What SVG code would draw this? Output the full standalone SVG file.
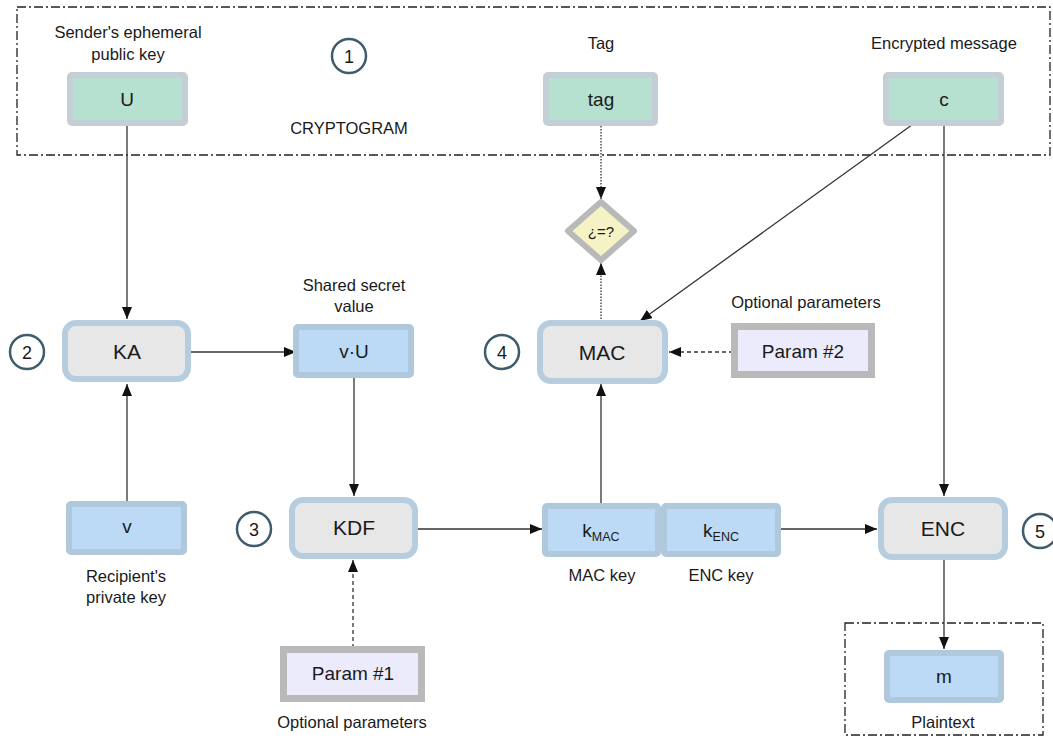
<svg xmlns="http://www.w3.org/2000/svg" width="1053" height="742" viewBox="0 0 1053 742">
<defs>
<style>
text{font-family:"Liberation Sans",Arial,sans-serif;fill:#1a1a1a;text-anchor:middle}
.lbl{font-size:16.5px}
.dt{font-size:19px}
.pt{font-size:21px}
.num{font-size:18px}
.green{fill:#b6e0cf;stroke:#c3ced6;stroke-width:6}
.blue{fill:#bcdaf6;stroke:#afc8dc;stroke-width:6}
.proc{fill:#e7e7e7;stroke:#b5cddf;stroke-width:6}
.param{fill:#ebebfb;stroke:#b9b9b9;stroke-width:7}
.circ{fill:#fff;stroke:#3e5c6c;stroke-width:2.5}
.frame{fill:none;stroke:#222;stroke-width:1.3;stroke-dasharray:9 3 2 3}
.con{fill:none;stroke:#333;stroke-width:1.3}
.dot{stroke-dasharray:1.5 1.5}
.dash{stroke-dasharray:4 3}
</style>
<marker id="ah" viewBox="0 0 12 10" refX="12" refY="5" markerWidth="12" markerHeight="10" markerUnits="userSpaceOnUse" orient="auto">
<path d="M0,0 L12,5 L0,10 z" fill="#111"/>
</marker>
</defs>
<rect width="1053" height="742" fill="#fff"/>

<g id="frames">
<rect class="frame" x="17" y="7" width="1033" height="148"/>
<rect class="frame" x="845" y="623" width="198" height="112"/>
</g>

<g id="connectors">
<line class="con" x1="127" y1="126" x2="127" y2="319" marker-end="url(#ah)"/>
<line class="con" x1="127" y1="502" x2="127" y2="384" marker-end="url(#ah)"/>
<line class="con" x1="191" y1="352" x2="296" y2="352" marker-end="url(#ah)"/>
<line class="con" x1="354" y1="378" x2="354" y2="496" marker-end="url(#ah)"/>
<line class="con dash" x1="353" y1="648" x2="353" y2="560" marker-end="url(#ah)"/>
<line class="con" x1="418" y1="529" x2="542" y2="529" marker-end="url(#ah)"/>
<line class="con" x1="601" y1="503" x2="601" y2="384" marker-end="url(#ah)"/>
<line class="con dot" x1="601" y1="319" x2="601" y2="263" marker-end="url(#ah)"/>
<line class="con dot" x1="601" y1="126" x2="601" y2="199" marker-end="url(#ah)"/>
<line class="con" x1="916" y1="122" x2="640" y2="321" marker-end="url(#ah)"/>
<line class="con dash" x1="733" y1="352" x2="669" y2="352" marker-end="url(#ah)"/>
<line class="con" x1="944" y1="126" x2="944" y2="496" marker-end="url(#ah)"/>
<line class="con" x1="781" y1="529" x2="877" y2="529" marker-end="url(#ah)"/>
<line class="con" x1="944" y1="560" x2="944" y2="649" marker-end="url(#ah)"/>
</g>

<g id="n1">
<circle class="circ" cx="349" cy="56" r="17"/>
<text class="num" x="349" y="62.5">1</text>
</g>
<text class="lbl" x="349" y="134">CRYPTOGRAM</text>

<g id="U">
<text class="lbl" x="128" y="38">Sender's ephemeral</text>
<text class="lbl" x="128" y="60">public key</text>
<rect class="green" x="70" y="75" width="115" height="48" rx="2"/>
<text class="dt" x="127" y="106">U</text>
</g>

<g id="tag">
<text class="lbl" x="601" y="49">Tag</text>
<rect class="green" x="546" y="75" width="109" height="48" rx="2"/>
<text class="dt" x="601" y="106">tag</text>
</g>

<g id="c">
<text class="lbl" x="944" y="49">Encrypted message</text>
<rect class="green" x="886" y="75" width="115" height="48" rx="2"/>
<text class="dt" x="944" y="106">c</text>
</g>

<g id="cmp">
<polygon points="601,202 634,231 601,260 568,231" fill="#f5f3c6" stroke="#b9b9b9" stroke-width="6" stroke-linejoin="round"/>
<text x="601" y="237" style="font-size:15px">¿=?</text>
</g>

<g id="n2">
<circle class="circ" cx="27" cy="352" r="17"/>
<text class="num" x="27" y="358.5">2</text>
</g>
<g id="KA">
<rect class="proc" x="65" y="323" width="123" height="56" rx="11"/>
<text class="pt" x="127" y="359">KA</text>
</g>

<g id="vU">
<text class="lbl" x="354" y="291">Shared secret</text>
<text class="lbl" x="354" y="312">value</text>
<rect class="blue" x="296" y="327" width="115" height="48" rx="2"/>
<text class="dt" x="354" y="358">v·U</text>
</g>

<g id="n4">
<circle class="circ" cx="502" cy="352" r="17"/>
<text class="num" x="502" y="358.5">4</text>
</g>
<g id="MAC">
<rect class="proc" x="540" y="323" width="125" height="58" rx="11"/>
<text class="pt" x="602" y="360">MAC</text>
</g>

<g id="param2">
<text class="lbl" x="806" y="308">Optional parameters</text>
<rect class="param" x="734.5" y="326.5" width="137" height="48"/>
<text class="dt" x="803" y="358">Param #2</text>
</g>

<g id="v">
<rect class="blue" x="69" y="504" width="115" height="48" rx="2"/>
<text class="dt" x="127" y="533">v</text>
<text class="lbl" x="126" y="582">Recipient's</text>
<text class="lbl" x="126" y="603">private key</text>
</g>

<g id="n3">
<circle class="circ" cx="254" cy="529" r="17"/>
<text class="num" x="254" y="535.5">3</text>
</g>
<g id="KDF">
<rect class="proc" x="292" y="500" width="123" height="56" rx="11"/>
<text class="pt" x="354" y="535">KDF</text>
</g>

<g id="param1">
<rect class="param" x="283.5" y="649.5" width="138" height="49"/>
<text class="dt" x="353" y="680">Param #1</text>
<text class="lbl" x="352" y="728">Optional parameters</text>
</g>

<g id="kMAC">
<rect class="blue" x="545" y="506" width="113" height="48" rx="2"/>
<text class="dt" x="601" y="537">k<tspan style="font-size:12.5px" dy="4">MAC</tspan></text>
<text class="lbl" x="602" y="581">MAC key</text>
</g>
<g id="kENC">
<rect class="blue" x="664" y="506" width="114" height="48" rx="2"/>
<text class="dt" x="721" y="537">k<tspan style="font-size:12.5px" dy="4">ENC</tspan></text>
<text class="lbl" x="721" y="581">ENC key</text>
</g>

<g id="ENC">
<rect class="proc" x="881" y="500" width="124" height="57" rx="11"/>
<text class="pt" x="943" y="536">ENC</text>
</g>
<g id="n5">
<circle class="circ" cx="1040" cy="531" r="17"/>
<text class="num" x="1040" y="537.5">5</text>
</g>

<g id="m">
<rect class="blue" x="887" y="653" width="114" height="47" rx="2"/>
<text class="dt" x="944" y="683">m</text>
<text class="lbl" x="943" y="728">Plaintext</text>
</g>
</svg>
